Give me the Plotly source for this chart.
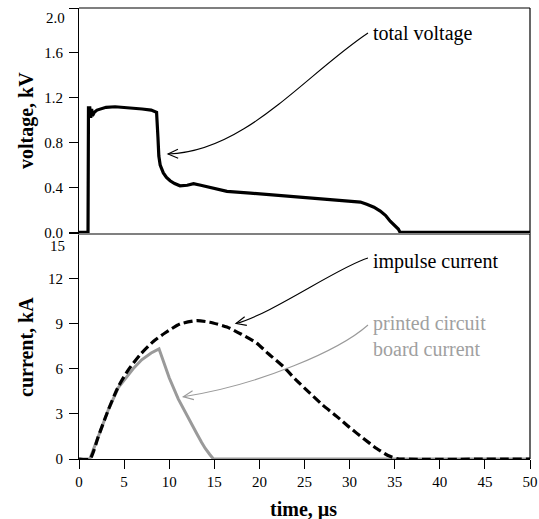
import math
import plotly.graph_objects as go

# ---------------- data ----------------
t_voltage = [0, 1.0, 1.05, 1.2, 1.3, 1.4, 1.5, 1.7, 2.0, 2.5, 3.0, 4.0, 5.0, 6.0, 7.0, 8.0, 8.6,
             8.75, 8.85, 9.0, 9.35, 9.7, 10.1, 10.6, 11.2, 12.0, 12.7, 13.5, 14.5, 15.5, 16.4,
             19.0, 22.6, 26.3, 30.0, 31.2, 31.9, 32.7, 33.4, 34.0, 34.5, 35.0, 35.4, 35.6, 50]
voltage_kV = [0, 0, 1.11, 1.11, 1.02, 1.10, 1.04, 1.07, 1.09, 1.105, 1.115, 1.12, 1.115, 1.11, 1.10,
              1.09, 1.07, 0.85, 0.68, 0.60, 0.53, 0.49, 0.46, 0.435, 0.415, 0.42, 0.435, 0.42,
              0.40, 0.38, 0.365, 0.35, 0.325, 0.305, 0.28, 0.27, 0.25, 0.225, 0.19, 0.15, 0.10,
              0.06, 0.03, 0, 0]

t_impulse = [0, 1.2, 2.14, 3.25, 4.36, 5.47, 6.76, 8.24, 9.53, 11.2, 13.05, 14.5, 16.4, 18.0,
             19.7, 21.0, 22.65, 24.0, 25.6, 27.0, 28.6, 30.0, 31.5, 33.0, 34.2, 35.2, 35.5, 50]
impulse_kA = [0, 0, 1.49, 3.27, 4.82, 5.93, 6.93, 7.82, 8.38, 8.98, 9.2, 9.1, 8.78, 8.3,
              7.71, 7.0, 6.15, 5.3, 4.38, 3.6, 2.82, 2.1, 1.38, 0.7, 0.25, 0.03, 0, 0]

t_pcb = [0, 1.2, 2.14, 3.25, 4.36, 5.1, 6.0, 6.95, 8.0, 8.87, 9.4, 10.0, 11.0, 11.6, 12.3,
         13.05, 13.6, 14.0, 14.5, 14.9, 50]
pcb_kA = [0, 0, 1.49, 3.27, 4.75, 5.3, 6.0, 6.6, 7.05, 7.33, 6.4, 5.4, 4.0, 3.3, 2.5,
          1.7, 1.1, 0.7, 0.3, 0, 0]

x_ticks = [0, 5, 10, 15, 20, 25, 30, 35, 40, 45, 50]
v_ticks = [0.0, 0.4, 0.8, 1.2, 1.6, 2.0]
i_ticks = [0, 3, 6, 9, 12, 15]

# ---------------- layout geometry ----------------
W, H = 539, 519
L, R, T, B = 79, 530, 8, 459
PW, PH = R - L, B - T
FONT = "Liberation Serif, Times New Roman, serif"


def pp(px, py):
    """pixel -> paper coordinates"""
    return (px - L) / PW, (B - py) / PH


fig = go.Figure()
fig.add_trace(go.Scatter(x=t_voltage, y=voltage_kV, mode="lines", xaxis="x2", yaxis="y2",
                         line=dict(color="black", width=3.2), showlegend=False))
fig.add_trace(go.Scatter(x=t_pcb, y=pcb_kA, mode="lines", xaxis="x", yaxis="y",
                         line=dict(color="#9a9a9a", width=3), showlegend=False))
fig.add_trace(go.Scatter(x=t_impulse, y=impulse_kA, mode="lines", xaxis="x", yaxis="y",
                         line=dict(color="black", width=3.2, dash="9px,4px", shape="spline",
                                   smoothing=0.6), showlegend=False))

tickfont = dict(family=FONT, size=15, color="black")
titlefont = dict(family=FONT, size=20, color="black", weight="bold")

fig.update_layout(
    width=W, height=H,
    margin=dict(l=L, r=W - R, t=T, b=H - B, autoexpand=False),
    paper_bgcolor="white", plot_bgcolor="white",
    xaxis=dict(domain=[0, 1], range=[0, 50], tickvals=x_ticks, ticks="outside", ticklen=9,
               tickcolor="black", showline=True, linecolor="black", linewidth=1.2,
               showgrid=False, zeroline=False, tickfont=tickfont, automargin=False),
    yaxis=dict(domain=[0, 0.5], range=[0, 15], tickvals=i_ticks,
               ticktext=[str(v) if v != 15 else "" for v in i_ticks],
               ticks="outside", ticklen=9, tickcolor="black", showline=True,
               linecolor="black", linewidth=1.2, showgrid=False, zeroline=False,
               tickfont=tickfont, ticklabelstandoff=3, automargin=False),
    xaxis2=dict(domain=[0, 1], range=[0, 50], anchor="y2", showticklabels=False, ticks="",
                showline=True, linecolor="#808080", linewidth=1.2, showgrid=False,
                zeroline=False, matches="x", automargin=False),
    yaxis2=dict(domain=[0.5, 1], range=[-0.01, 2.0], anchor="x2", tickvals=v_ticks,
                ticktext=[f"{v:.1f}" if v != 2.0 else "" for v in v_ticks],
                ticks="outside", ticklen=9, tickcolor="black", showline=True,
                linecolor="black", linewidth=1.2, showgrid=False, zeroline=False,
                tickfont=tickfont, ticklabelstandoff=3, automargin=False),
)

shapes = []
# top and right borders
shapes.append(dict(type="line", xref="paper", yref="paper", x0=0, x1=1, y0=1, y1=1,
                   line=dict(color="black", width=1.2)))
shapes.append(dict(type="line", xref="paper", yref="paper", x0=1, x1=1, y0=0, y1=1,
                   line=dict(color="black", width=1.2)))


def curved_arrow(p0, p1, p2, p3, color):
    a, b, c, d = (pp(*p) for p in (p0, p1, p2, p3))
    path = (f"M {a[0]},{a[1]} C {b[0]},{b[1]} {c[0]},{c[1]} {d[0]},{d[1]}")
    shapes.append(dict(type="path", xref="paper", yref="paper", path=path,
                       line=dict(color=color, width=1.1)))
    # open arrowhead at p3
    dx, dy = p3[0] - p2[0], p3[1] - p2[1]
    n = math.hypot(dx, dy)
    ux, uy = dx / n, dy / n
    wings = []
    for ang in (math.radians(24), -math.radians(24)):
        rx = ux * math.cos(ang) - uy * math.sin(ang)
        ry = ux * math.sin(ang) + uy * math.cos(ang)
        wings.append((p3[0] - 11 * rx, p3[1] - 11 * ry))
    w1, tip, w2 = pp(*wings[0]), pp(*p3), pp(*wings[1])
    shapes.append(dict(type="path", xref="paper", yref="paper",
                       path=f"M {w1[0]},{w1[1]} L {tip[0]},{tip[1]} L {w2[0]},{w2[1]}",
                       line=dict(color=color, width=1.1)))


curved_arrow((368, 33), (305, 75), (245, 152), (168, 154), "black")
curved_arrow((368, 258), (340, 266), (270, 315), (236, 323.5), "black")
curved_arrow((368, 325), (340, 350), (260, 385), (183.3, 396.7), "#9a9a9a")

# divider between panels (gray)
shapes.append(dict(type="line", xref="paper", yref="paper", x0=0, x1=1, y0=0.5, y1=0.5,
                   line=dict(color="#808080", width=1.2)))
fig.update_layout(shapes=shapes)

annos = []
annfont = dict(family=FONT, size=20, color="black")
x, y = pp(371, 34)
annos.append(dict(text="total voltage", x=x, y=y, xref="paper", yref="paper",
                  xanchor="left", yanchor="middle", showarrow=False, font=annfont))
x, y = pp(371, 261)
annos.append(dict(text="impulse current", x=x, y=y, xref="paper", yref="paper",
                  xanchor="left", yanchor="middle", showarrow=False, font=annfont))
x, y = pp(371, 336)
annos.append(dict(text="printed circuit<br>board current", x=x, y=y, xref="paper",
                  yref="paper", xanchor="left", yanchor="middle", align="left",
                  showarrow=False, font=dict(family=FONT, size=20, color="#a0a0a0")))
# top tick labels drawn slightly below their ticks, as in the original
x, y = pp(67, 18)
annos.append(dict(text="2.0", x=x, y=y, xref="paper", yref="paper", xanchor="right",
                  yanchor="middle", showarrow=False, font=tickfont))
x, y = pp(67, 246)
annos.append(dict(text="15", x=x, y=y, xref="paper", yref="paper", xanchor="right",
                  yanchor="middle", showarrow=False, font=tickfont))
# axis titles
x, y = pp(26, 121)
annos.append(dict(text="voltage, kV", x=x, y=y, xref="paper", yref="paper", textangle=-90,
                  xanchor="center", yanchor="middle", showarrow=False, font=titlefont))
x, y = pp(26, 347)
annos.append(dict(text="current, kA", x=x, y=y, xref="paper", yref="paper", textangle=-90,
                  xanchor="center", yanchor="middle", showarrow=False, font=titlefont))
x, y = pp(303, 509)
annos.append(dict(text="time, µs", x=x, y=y, xref="paper", yref="paper",
                  xanchor="center", yanchor="middle", showarrow=False, font=titlefont))
fig.update_layout(annotations=annos)

fig.write_html("out.html", config={"displayModeBar": False},
               post_script="document.body.style.margin='0';document.body.style.overflow='hidden';")
